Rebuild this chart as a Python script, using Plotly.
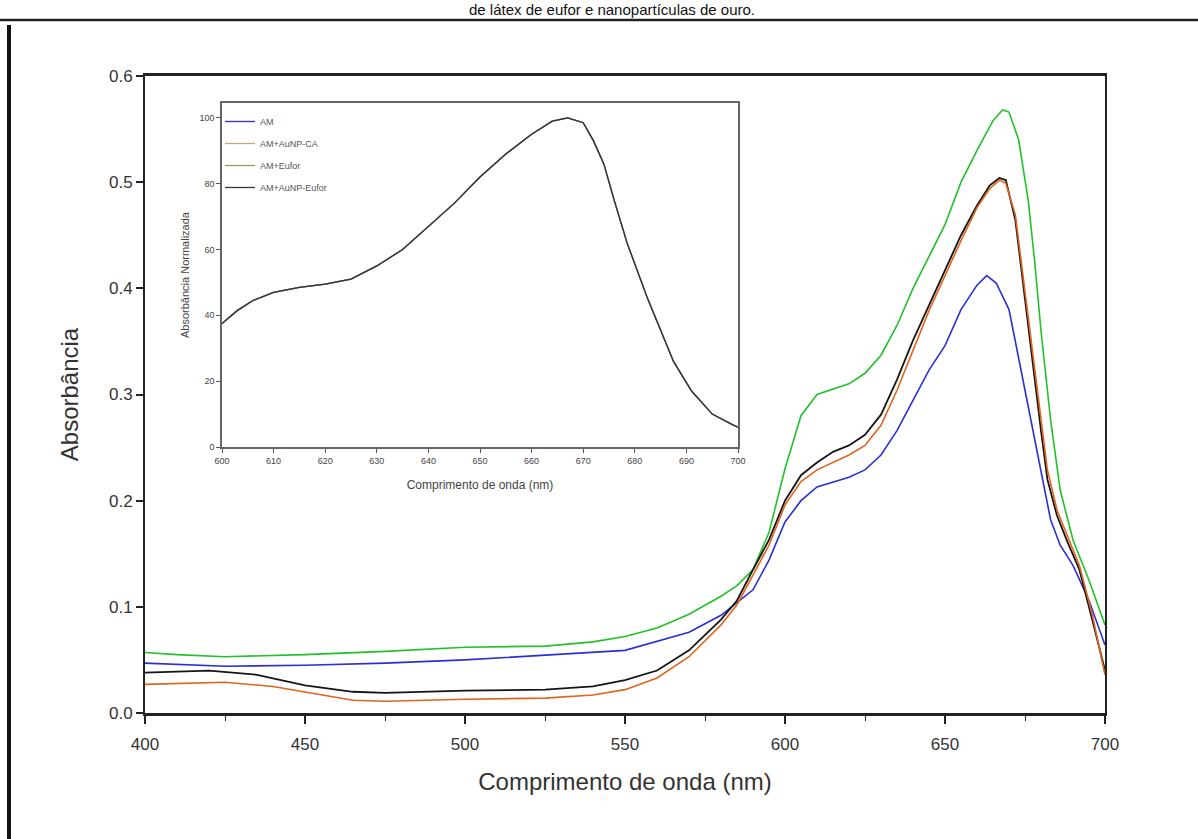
import plotly.graph_objects as go

# ---- main chart data (wavelength nm -> absorbance) ----
wl_green = [400, 410, 425, 450, 475, 500, 525, 540, 550, 560, 570, 580, 585, 590, 595, 600, 605, 610, 620, 625, 630, 635, 640, 645, 650, 655, 660, 665, 668, 670, 673, 676, 678, 680, 683, 686, 690, 695, 700]
abs_green = [0.057, 0.055, 0.053, 0.055, 0.058, 0.062, 0.063, 0.067, 0.072, 0.080, 0.093, 0.110, 0.120, 0.135, 0.170, 0.230, 0.280, 0.300, 0.310, 0.320, 0.337, 0.365, 0.400, 0.430, 0.460, 0.500, 0.530, 0.558, 0.568, 0.566, 0.540, 0.483, 0.426, 0.360, 0.276, 0.210, 0.163, 0.125, 0.083]

wl_blue = [400, 425, 450, 475, 500, 550, 570, 580, 590, 595, 600, 605, 610, 620, 625, 630, 635, 640, 645, 650, 655, 660, 663, 666, 670, 675, 678, 680, 683, 686, 690, 695, 700]
abs_blue = [0.047, 0.044, 0.045, 0.047, 0.050, 0.059, 0.076, 0.092, 0.116, 0.144, 0.180, 0.200, 0.213, 0.222, 0.229, 0.243, 0.266, 0.295, 0.323, 0.346, 0.380, 0.403, 0.412, 0.405, 0.380, 0.304, 0.257, 0.229, 0.182, 0.158, 0.139, 0.106, 0.064]

wl_black = [400, 420, 435, 450, 465, 475, 500, 525, 540, 550, 560, 570, 580, 585, 590, 595, 600, 605, 610, 615, 620, 625, 630, 635, 640, 645, 650, 655, 660, 664, 667, 669, 672, 675, 678, 680, 682, 685, 688, 692, 696, 700]
abs_black = [0.038, 0.040, 0.036, 0.026, 0.020, 0.019, 0.021, 0.022, 0.025, 0.031, 0.040, 0.059, 0.088, 0.106, 0.135, 0.163, 0.200, 0.224, 0.236, 0.246, 0.252, 0.262, 0.281, 0.314, 0.351, 0.384, 0.417, 0.450, 0.478, 0.497, 0.504, 0.502, 0.464, 0.389, 0.314, 0.266, 0.220, 0.186, 0.163, 0.135, 0.088, 0.040]

wl_orange = [400, 425, 440, 450, 465, 475, 500, 525, 540, 550, 560, 570, 580, 585, 590, 595, 600, 605, 610, 615, 620, 625, 630, 635, 640, 645, 650, 655, 660, 664, 667, 669, 672, 675, 678, 680, 682, 685, 688, 692, 696, 700]
abs_orange = [0.027, 0.029, 0.025, 0.020, 0.012, 0.011, 0.013, 0.014, 0.017, 0.022, 0.033, 0.053, 0.083, 0.102, 0.130, 0.158, 0.196, 0.218, 0.229, 0.236, 0.243, 0.252, 0.271, 0.304, 0.342, 0.379, 0.412, 0.445, 0.476, 0.494, 0.502, 0.499, 0.469, 0.398, 0.328, 0.276, 0.229, 0.191, 0.168, 0.139, 0.093, 0.036]

# ---- inset data (normalized absorbance, all series overlap) ----
wl_inset = [600, 603, 606, 610, 615, 620, 625, 630, 635, 640, 645, 650, 655, 660, 664, 667, 670, 672, 674, 676, 678.5, 682.5, 687.5, 691, 695, 699, 700]
norm_inset = [37.5, 41.5, 44.5, 47, 48.5, 49.5, 51, 55, 60, 67, 74, 82, 89, 95, 99, 100, 98.5, 93, 86, 75, 62, 45, 26, 17, 10, 6.7, 6]

legend_names = ["AM", "AM+AuNP-CA", "AM+Eufor", "AM+AuNP-Eufor"]
main_ticks_x = [400, 450, 500, 550, 600, 650, 700]
main_ticks_y = [0.0, 0.1, 0.2, 0.3, 0.4, 0.5, 0.6]
inset_ticks_x = [600, 610, 620, 630, 640, 650, 660, 670, 680, 690, 700]
inset_ticks_y = [0, 20, 40, 60, 80, 100]

C_BLUE = "#2a2fd6"
C_ORANGE = "#e0631e"
C_GREEN = "#22c02a"
C_BLACK = "#151515"

W, H = 1198, 839
OFF = 0  # body margin removed by post_script


def fx(px):
    return (px - OFF) / W


def fy(py):
    return 1 - (py - OFF) / H


fig = go.Figure()

# main traces
fig.add_trace(go.Scatter(x=wl_blue, y=abs_blue, mode="lines", line=dict(color=C_BLUE, width=1.6),
                         showlegend=False, xaxis="x", yaxis="y"))
fig.add_trace(go.Scatter(x=wl_green, y=abs_green, mode="lines", line=dict(color=C_GREEN, width=1.6),
                         showlegend=False, xaxis="x", yaxis="y"))
fig.add_trace(go.Scatter(x=wl_black, y=abs_black, mode="lines", line=dict(color=C_BLACK, width=1.8),
                         showlegend=False, xaxis="x", yaxis="y"))
fig.add_trace(go.Scatter(x=wl_orange, y=abs_orange, mode="lines", line=dict(color=C_ORANGE, width=1.6),
                         showlegend=False, xaxis="x", yaxis="y"))

# inset traces (same normalized curve, overlapping)
inset_colors = [C_BLUE, "#c9a27a", "#8aa06a", "#333333"]
for name, col in zip(legend_names, inset_colors):
    fig.add_trace(go.Scatter(x=wl_inset, y=norm_inset, mode="lines", name=name, legendgroup=name,
                             line=dict(color=col, width=1.3), xaxis="x2", yaxis="y2"))

fig.update_layout(
    width=W, height=H,
    margin=dict(l=0, r=0, t=0, b=0, autoexpand=False),
    paper_bgcolor="white", plot_bgcolor="white",
    font=dict(family="Liberation Sans, Arial, sans-serif", color="#222"),
    xaxis=dict(domain=[fx(145), fx(1105)], range=[400, 700], tickvals=main_ticks_x,
               ticks="outside", ticklen=8, tickwidth=1.5, tickcolor="#222",
               minor=dict(dtick=25, ticks="outside", ticklen=5, tickcolor="#222", tickwidth=1.2),
               showline=True, linecolor="#222", linewidth=2.5, mirror=True,
               showgrid=False, zeroline=False, tickfont=dict(size=17, color="#333"),
               ticklabelstandoff=6,
               title=dict(text="Comprimento de onda (nm)", font=dict(size=24, color="#333"), standoff=21),
               anchor="y", automargin=False),
    yaxis=dict(domain=[fy(713), fy(76)], range=[0, 0.6], tickvals=main_ticks_y,
               tickformat=".1f", ticks="outside", ticklen=7, tickwidth=1.5, tickcolor="#222",
               showline=True, linecolor="#222", linewidth=2, mirror=True,
               showgrid=False, zeroline=False, tickfont=dict(size=17, color="#333"),
               title=dict(text="Absorbância", font=dict(size=24, color="#333"), standoff=24),
               anchor="x", automargin=False),
    xaxis2=dict(domain=[fx(222), fx(738)], range=[600, 700], tickvals=inset_ticks_x,
                ticks="outside", ticklen=4, tickcolor="#555",
                showline=True, linecolor="#666", linewidth=1.5, mirror=True,
                showgrid=False, zeroline=False, tickfont=dict(size=9, color="#444"),
                title=dict(text="Comprimento de onda (nm)", font=dict(size=12, color="#444"), standoff=16),
                anchor="y2", automargin=False),
    yaxis2=dict(domain=[fy(447), fy(103)], range=[0, 104.5], tickvals=inset_ticks_y,
                ticks="outside", ticklen=4, tickcolor="#555",
                showline=True, linecolor="#666", linewidth=1.5, mirror=True,
                showgrid=False, zeroline=False, tickfont=dict(size=9, color="#444"),
                title=dict(text="Absorbância Normalizada", font=dict(size=11, color="#444"), standoff=8),
                anchor="x2", automargin=False),
    legend=dict(x=fx(220), y=fy(107), xanchor="left", yanchor="top",
                bgcolor="rgba(0,0,0,0)", font=dict(size=9, color="#555"),
                itemwidth=30, tracegroupgap=3),
    showlegend=True,
)

# caption at the top (fully visible) and the rule under it
fig.add_annotation(text="de látex de eufor e nanopartículas de ouro.", xref="paper", yref="paper",
                   x=fx(612), y=fy(0), xanchor="center", yanchor="top", showarrow=False,
                   font=dict(size=15, color="#111", family="Liberation Sans, Arial, sans-serif"),
                   borderpad=0)
fig.add_shape(type="line", xref="paper", yref="paper", x0=fx(0), x1=fx(1198), y0=fy(20), y1=fy(20),
              line=dict(color="#222", width=2.5))
# dark scanned edge on the left
fig.add_shape(type="line", xref="paper", yref="paper", x0=fx(9), x1=fx(9), y0=fy(839), y1=fy(25),
              line=dict(color="#111", width=4))

fig.write_html("out.html", config={"displayModeBar": False},
               post_script="document.body.style.margin='0';document.body.style.overflow='hidden';")
